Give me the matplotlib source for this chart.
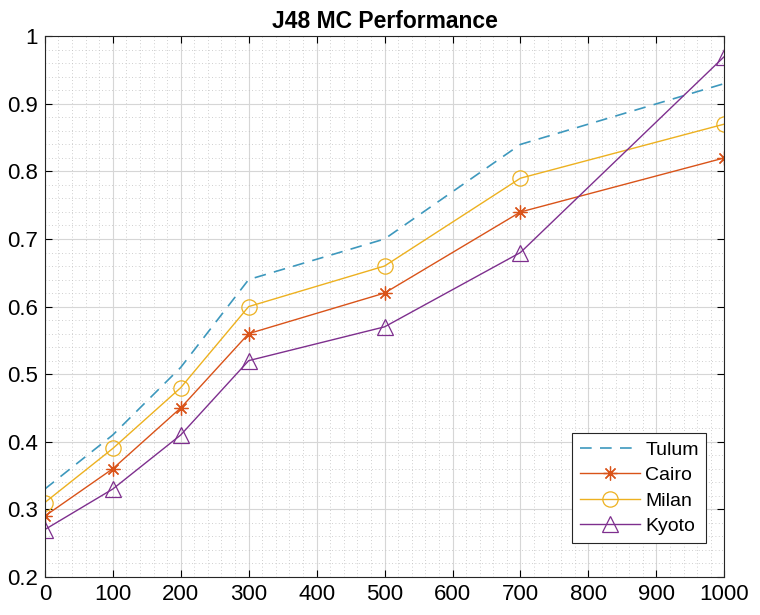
import numpy as np
import matplotlib
matplotlib.use('Agg')
import matplotlib.pyplot as plt
from matplotlib.ticker import AutoMinorLocator
from matplotlib import rcParams
rcParams.update({'font.family': 'Liberation Sans', 'font.size': 16})

# data
x = [0, 100, 200, 300, 500, 700, 1000]
tulum = [0.33, 0.41, 0.51, 0.64, 0.70, 0.84, 0.93]
cairo = [0.29, 0.36, 0.45, 0.56, 0.62, 0.74, 0.82]
milan = [0.31, 0.39, 0.48, 0.60, 0.66, 0.79, 0.87]
kyoto = [0.27, 0.33, 0.41, 0.52, 0.57, 0.68, 0.97]

fig = plt.figure(figsize=(7.6, 6.15), dpi=100)
ax = fig.add_axes([0.059, 0.062, 0.894, 0.879])

ax.plot(x, tulum, c='#3d98bd', lw=1.2, ls=(0, (7, 5)), label='Tulum')
ax.plot(x, cairo, c='#D95319', lw=1.0, marker=(8, 2, 0), ms=10, mew=0.9, label='Cairo')
ax.plot(x, milan, c='#EDB120', lw=1.0, marker='o', ms=11, mfc='none', mew=0.9, label='Milan')
ax.plot(x, kyoto, c='#7E2F8E', lw=1.0, marker='^', ms=12, mfc='none', mew=0.9, label='Kyoto')

ax.set_xlim(0, 1000)
ax.set_ylim(0.2, 1)
ax.set_xticks(np.arange(0, 1001, 100))
ax.set_yticks(np.arange(0.2, 1.01, 0.1))
ax.set_yticklabels(['0.2', '0.3', '0.4', '0.5', '0.6', '0.7', '0.8', '0.9', '1'])
ax.xaxis.set_minor_locator(AutoMinorLocator(5))
ax.yaxis.set_minor_locator(AutoMinorLocator(5))
ax.grid(which='major', c='#d6d6d6', lw=0.8)
ax.grid(which='minor', c='#c0c0c0', lw=0.6, ls=(0, (1, 3)))
ax.set_axisbelow(True)
ax.tick_params(which='major', direction='in', top=True, right=True, length=5, width=0.8, pad=5)
ax.tick_params(which='minor', length=0, top=True, right=True)
for s in ax.spines.values():
    s.set_color('#262626')
    s.set_linewidth(0.8)

ax.set_title('J48 MC Performance', fontweight='bold', fontsize=16.5, pad=6)

leg = ax.legend(loc='lower right', bbox_to_anchor=(0.988, 0.045), fontsize=14,
                fancybox=False, framealpha=1, edgecolor='#262626',
                handlelength=3.1, borderpad=0.4, labelspacing=0.4, handletextpad=0.25)
leg.get_frame().set_linewidth(0.8)

plt.savefig('out.png', dpi=100)
